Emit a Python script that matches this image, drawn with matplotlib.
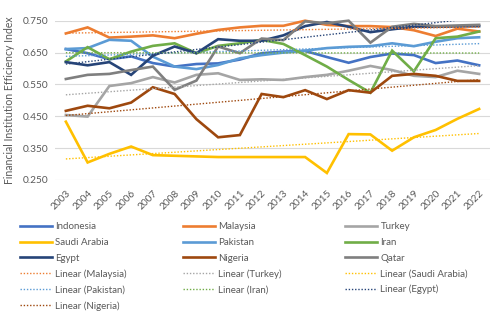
import numpy as np
import matplotlib
matplotlib.use("Agg")
import matplotlib.pyplot as plt

plt.rcParams['font.family'] = ['Lato', 'DejaVu Sans']

years = [str(y) for y in range(2003, 2023)]

indonesia = [0.661, 0.648, 0.629, 0.638, 0.617, 0.606, 0.614, 0.616, 0.628, 0.648,
             0.653, 0.655, 0.636, 0.618, 0.636, 0.647, 0.642, 0.617, 0.625, 0.610]
malaysia = [0.710, 0.729, 0.697, 0.700, 0.704, 0.695, 0.709, 0.721, 0.729, 0.734,
            0.734, 0.750, 0.737, 0.733, 0.733, 0.730, 0.720, 0.702, 0.725, 0.716]
turkey = [0.454, 0.449, 0.545, 0.554, 0.573, 0.556, 0.580, 0.585, 0.564, 0.566,
          0.564, 0.573, 0.580, 0.593, 0.608, 0.595, 0.577, 0.573, 0.593, 0.583]
saudi_arabia = [0.433, 0.305, 0.332, 0.355, 0.328, 0.326, 0.324, 0.322, 0.322, 0.322,
                0.322, 0.322, 0.272, 0.394, 0.393, 0.342, 0.384, 0.407, 0.442, 0.473]
pakistan = [0.661, 0.664, 0.690, 0.687, 0.637, 0.606, 0.598, 0.611, 0.632, 0.642,
            0.650, 0.656, 0.664, 0.668, 0.670, 0.679, 0.670, 0.684, 0.695, 0.698]
iran = [0.622, 0.667, 0.629, 0.653, 0.671, 0.679, 0.648, 0.671, 0.679, 0.690,
        0.677, 0.642, 0.606, 0.564, 0.524, 0.656, 0.591, 0.695, 0.700, 0.716]
egypt = [0.620, 0.610, 0.620, 0.580, 0.640, 0.669, 0.648, 0.692, 0.687, 0.687,
         0.704, 0.733, 0.746, 0.731, 0.714, 0.723, 0.731, 0.731, 0.732, 0.733]
nigeria = [0.467, 0.483, 0.475, 0.493, 0.541, 0.520, 0.441, 0.384, 0.391, 0.520,
           0.510, 0.532, 0.504, 0.532, 0.524, 0.577, 0.583, 0.577, 0.561, 0.561]
qatar = [0.567, 0.580, 0.583, 0.595, 0.606, 0.533, 0.562, 0.669, 0.648, 0.694,
         0.689, 0.748, 0.742, 0.750, 0.681, 0.731, 0.740, 0.733, 0.735, 0.737]

series = [
    ("Indonesia", indonesia, "#4472C4"),
    ("Malaysia", malaysia, "#ED7D31"),
    ("Turkey", turkey, "#A5A5A5"),
    ("Saudi Arabia", saudi_arabia, "#FFC000"),
    ("Pakistan", pakistan, "#5B9BD5"),
    ("Iran", iran, "#70AD47"),
    ("Egypt", egypt, "#264478"),
    ("Nigeria", nigeria, "#9E480E"),
    ("Qatar", qatar, "#7F7F7F"),
]
trend_names = ["Malaysia", "Turkey", "Saudi Arabia", "Pakistan", "Iran", "Egypt", "Nigeria"]

yticks = [0.250, 0.350, 0.450, 0.550, 0.650, 0.750]
text_color = "#595959"

fig = plt.figure(figsize=(4.91, 3.21), dpi=100)
ax = fig.add_axes([0.112, 0.4393, 0.886, 0.4962])

x = np.arange(len(years))
handles, labels = [], []
colors = {}
for name, vals, col in series:
    colors[name] = col
    (ln,) = ax.plot(x, vals, color=col, lw=1.9, solid_joinstyle='miter', clip_on=False, zorder=3)
    handles.append(ln)
    labels.append(name)

data = {name: vals for name, vals, _ in series}
for name in trend_names:
    vals = np.array(data[name])
    k, b = np.polyfit(x + 1, vals, 1)
    (tl,) = ax.plot(x, k * (x + 1) + b, color=colors[name], lw=1.0,
                    linestyle=(0, (1, 1.3)), zorder=4)
    handles.append(tl)
    labels.append(f"Linear ({name})")

ax.set_xlim(-0.5, len(years) - 0.5)
ax.set_ylim(0.25, 0.75)
ax.set_yticks(yticks)
ax.set_yticklabels([f"{v:.3f}" for v in yticks])
ax.set_xticks(x)
ax.set_xticklabels(years, rotation=45, ha='right', va='top', rotation_mode='anchor')
ax.tick_params(axis='both', length=0, colors=text_color, labelsize=7.3)
ax.tick_params(axis='y', pad=5)
ax.tick_params(axis='x', pad=6)
for s in ax.spines.values():
    s.set_visible(False)
ax.grid(axis='y', color='#D9D9D9', lw=0.8, zorder=0)
ax.set_axisbelow(True)
ax.set_ylabel("Financial Institution Efficiency Index", color=text_color, fontsize=7.6, labelpad=5)

# legend laid out in three fixed-width columns, filled row by row
n = len(handles)
col_x = [0.0328, 0.3648, 0.6947]
for c in range(3):
    idx = list(range(c, n, 3))
    fig.legend([handles[i] for i in idx], [labels[i] for i in idx],
               ncol=1, loc='upper left', bbox_to_anchor=(col_x[c], 0.319),
               frameon=False, fontsize=7.0, labelcolor=text_color,
               handlelength=3.3, handletextpad=0.35,
               labelspacing=0.68, borderaxespad=0)

fig.savefig("out.png", dpi=100)
